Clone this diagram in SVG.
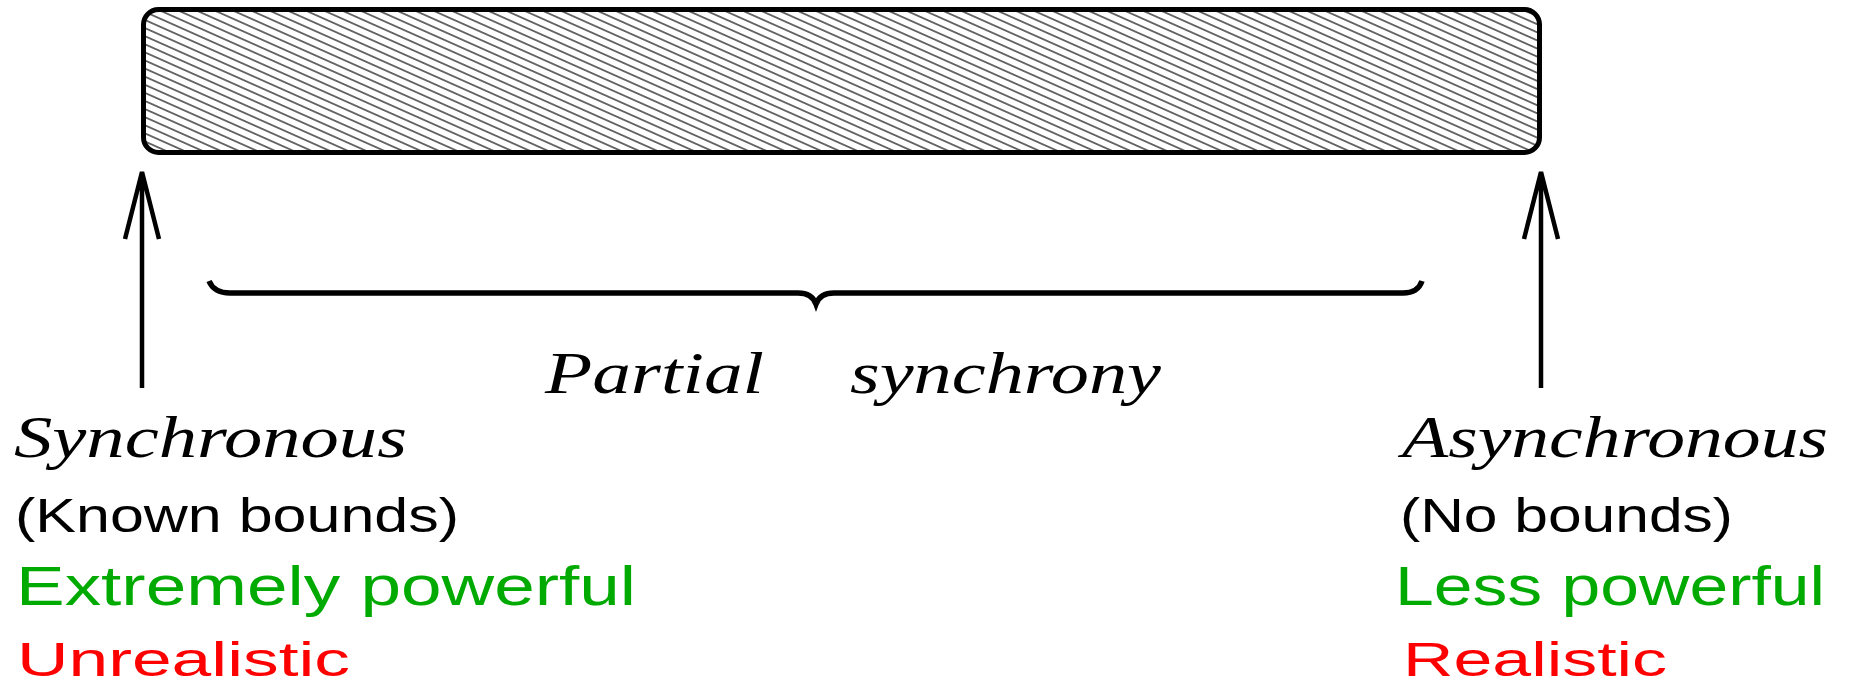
<svg xmlns="http://www.w3.org/2000/svg" width="1849" height="687" viewBox="0 0 1849 687">
<style>
.math{font-family:"Liberation Serif","DejaVu Serif",serif;font-style:italic;font-size:60px;fill:#000}
.sans{font-family:"Liberation Sans","DejaVu Sans",sans-serif;font-size:49px}
.big{font-size:56px}
.black{fill:#000}.green{fill:#00aa00}.red{fill:#ff0000}
.arrow{fill:none;stroke:#000;stroke-width:4.5;stroke-linecap:butt}
</style>
<defs>
<pattern id="hatch" patternUnits="userSpaceOnUse" width="20" height="7.4" patternTransform="rotate(24)">
<line x1="-5" y1="3.7" x2="25" y2="3.7" stroke="#222" stroke-width="1.3"/>
</pattern>
</defs>
<g id="bar">
<rect x="143.5" y="9.5" width="1396" height="143" rx="15" ry="15" fill="url(#hatch)" stroke="#000" stroke-width="5"/>
</g>
<g id="connectors">
<path class="arrow" d="M142,388 L142,172 M125,239 L142,172 L159,239"/>
<path class="arrow" d="M1541,388 L1541,172 M1524,239 L1541,172 L1558,239"/>
</g>
<g id="brace">
<path d="M209,281 Q214,293 230,293 L798,293 Q812,293 816,304 Q820,293 834,293 L1403,293 Q1418,293 1422,281" fill="none" stroke="#000" stroke-width="5.5"/>
</g>
<g id="partial">
<text class="math" x="545" y="393" textLength="219" lengthAdjust="spacingAndGlyphs">Partial</text>
<text class="math" x="850" y="393" textLength="311" lengthAdjust="spacingAndGlyphs">synchrony</text>
</g>
<g id="sync">
<text class="math" x="14" y="457" font-size="62" textLength="393" lengthAdjust="spacingAndGlyphs">Synchronous</text>
<text class="sans black" x="15" y="532" textLength="444" lengthAdjust="spacingAndGlyphs">(Known bounds)</text>
<text class="sans big green" x="16" y="605" textLength="620" lengthAdjust="spacingAndGlyphs">Extremely powerful</text>
<text class="sans red" x="17" y="676" font-size="55" textLength="333" lengthAdjust="spacingAndGlyphs">Unrealistic</text>
</g>
<g id="async">
<text class="math" x="1402" y="457" font-size="62" textLength="426" lengthAdjust="spacingAndGlyphs">Asynchronous</text>
<text class="sans black" x="1400" y="532" textLength="333" lengthAdjust="spacingAndGlyphs">(No bounds)</text>
<text class="sans big green" x="1395" y="605" textLength="430" lengthAdjust="spacingAndGlyphs">Less powerful</text>
<text class="sans red" x="1403" y="676" font-size="55" textLength="264" lengthAdjust="spacingAndGlyphs">Realistic</text>
</g>
</svg>
